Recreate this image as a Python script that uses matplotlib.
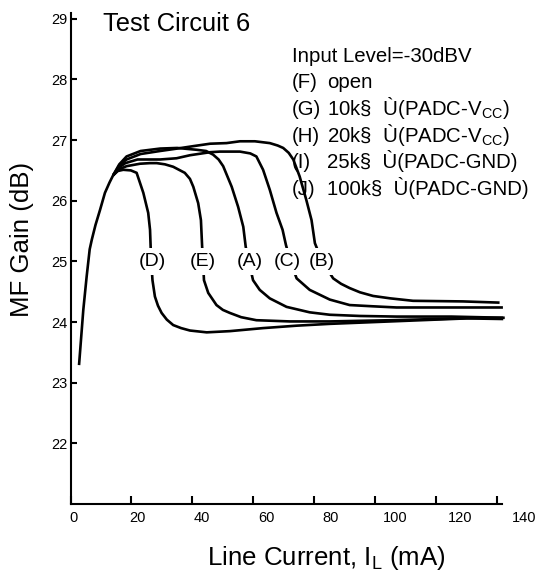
import matplotlib
matplotlib.use("Agg")
import matplotlib.pyplot as plt

plt.rcParams['font.family'] = ['Liberation Sans', 'DejaVu Sans']

# ---------------- data ----------------
rise_x = [2.8, 4.2, 5.3, 6.3, 7.0, 8.2, 9.7, 11.3, 12.8, 14.0]
rise_y = [23.29, 24.2, 24.75, 25.2, 25.36, 25.6, 25.85, 26.13, 26.3, 26.42]

d_x = [14, 15.5, 17.3, 19.8, 21.7, 23.9, 25.5, 26.1, 26.3, 26.5, 26.9, 27.7, 28.7, 29.9,
       31.6, 33.7, 36.3, 39.2, 44.7, 52.3, 63.2, 74.2, 85.1, 100, 115, 130, 142]
d_y = [26.42, 26.49, 26.51, 26.5, 26.46, 26.13, 25.8, 25.52, 25.24, 25.0, 24.69, 24.42,
       24.27, 24.15, 24.04, 23.95, 23.9, 23.86, 23.83, 23.85, 23.9, 23.94, 23.97, 24.0,
       24.03, 24.06, 24.05]

e_x = [14, 16, 18.4, 22.8, 26.1, 28.3, 31.0, 33.7, 37.5, 39.2, 40.3, 41.9, 42.8, 43.2,
       43.5, 43.8, 45.2, 47.9, 50.0, 52.3, 56.0, 61, 72, 85.1, 105, 120, 135, 142]
e_y = [26.42, 26.52, 26.57, 26.61, 26.62, 26.62, 26.6, 26.56, 26.46, 26.36, 26.23, 25.96,
       25.68, 25.24, 25.0, 24.69, 24.48, 24.28, 24.2, 24.15, 24.08, 24.03, 24.01, 24.01,
       24.03, 24.05, 24.07, 24.07]

a_x = [14, 16, 18.4, 23, 29.4, 35, 41.4, 44.5, 46.8, 48.6, 50.1, 52.9, 55.0, 56.7, 57.5,
       58.5, 59.9, 62.1, 65.4, 70.9, 78.5, 85.1, 95, 107, 125, 142.5]
a_y = [26.42, 26.6, 26.73, 26.82, 26.86, 26.87, 26.84, 26.82, 26.76, 26.68, 26.57, 26.23,
       25.9, 25.57, 25.24, 25.0, 24.69, 24.53, 24.39, 24.25, 24.16, 24.12, 24.1, 24.09,
       24.09, 24.07]

c_x = [14, 16, 18, 22, 26, 29.4, 34.8, 39.2, 45.8, 49, 55.6, 59.0, 61, 63.2, 65.4, 67.6,
       69.6, 70.7, 72.2, 74.2, 78.5, 85.1, 91.6, 99, 107, 128.8, 141.9]
c_y = [26.42, 26.55, 26.62, 26.68, 26.68, 26.68, 26.7, 26.75, 26.8, 26.81, 26.81, 26.78,
       26.73, 26.51, 26.18, 25.8, 25.52, 25.27, 25.0, 24.72, 24.53, 24.37, 24.28, 24.26,
       24.24, 24.24, 24.24]

b_x = [14, 16, 18.4, 23, 29.4, 35, 40.3, 45.8, 51.2, 55.6, 60.5, 65.4, 68.0, 69.8, 71.6,
       73.1, 75.2, 77.4, 79.1, 80.2, 82.6, 86.2, 88.8, 91.6, 95.0, 99.3, 105.0, 112.4,
       128.8, 140.8]
b_y = [26.42, 26.58, 26.68, 26.77, 26.82, 26.86, 26.9, 26.94, 26.95, 26.98, 26.98, 26.95,
       26.91, 26.87, 26.79, 26.68, 26.4, 26.01, 25.68, 25.3, 25.0, 24.72, 24.63, 24.56,
       24.49, 24.43, 24.39, 24.35, 24.34, 24.32]

curve_names = ['(D)', '(E)', '(A)', '(C)', '(B)']
label_x = [26.9, 43.5, 58.9, 71.2, 82.4]
label_y = 25.0

xticks = [0, 20, 40, 60, 80, 100, 120, 140]
yticks = [22, 23, 24, 25, 26, 27, 28, 29]

legend_keys = ['(F)', '(G)', '(H)', '(I)', '(J)']
legend_vals = ['open',
               '10k§  Ù(PADC-V$\\mathregular{_{CC}}$)',
               '20k§  Ù(PADC-V$\\mathregular{_{CC}}$)',
               '25k§  Ù(PADC-GND)',
               '100k§  Ù(PADC-GND)']

# ---------------- figure ----------------
W, H = 537, 572
fig = plt.figure(figsize=(W / 100, H / 100), dpi=100)
ax = fig.add_axes([70.5 / W, 1 - 504 / H, (502 - 70.5) / W, (504 - 12.7) / H])

lw = 1.9
ax.plot(rise_x, rise_y, color='black', lw=lw, solid_joinstyle='round', solid_capstyle='butt')
for xs, ys in [(d_x, d_y), (e_x, e_y), (a_x, a_y), (c_x, c_y), (b_x, b_y)]:
    ax.plot(xs, ys, color='black', lw=lw, clip_on=False,
            solid_joinstyle='round', solid_capstyle='butt')

for name, lx in zip(curve_names, label_x):
    ax.text(lx, label_y, name, fontsize=14, ha='center', va='center', zorder=5,
            bbox=dict(boxstyle='square,pad=0.25', fc='white', ec='none'))

ax.set_xlim(0, 141.6)
ax.set_ylim(21.0, 29.1)
for s in ['top', 'right']:
    ax.spines[s].set_visible(False)
for s in ['left', 'bottom']:
    ax.spines[s].set_linewidth(1.5)

ax.set_xticks(xticks)
ax.set_xticklabels([])
ax.set_yticks(yticks)
ax.set_yticklabels([str(v) for v in yticks], fontsize=10.5)
ax.tick_params(axis='both', direction='in', width=1.5)
ax.tick_params(axis='x', length=5.5)
ax.tick_params(axis='y', length=4, pad=2)

# x tick labels (placed as in the reference, slightly offset from ticks)
for v in xticks:
    fig.text((73 + 3.225 * v) / W, 1 - 511 / H, str(v), fontsize=10.5,
             ha='center', va='top')

fig.text(103 / W, 1 - 31 / H, 'Test Circuit 6', fontsize=18.4, ha='left', va='baseline')

fig.text(292 / W, 1 - 61.7 / H, 'Input Level=-30dBV', fontsize=14.7, ha='left', va='baseline')
for i, (k, v) in enumerate(zip(legend_keys, legend_vals)):
    yb = 61.7 + 26.7 * (i + 1)
    fig.text(292 / W, 1 - yb / H, k, fontsize=14.7, ha='left', va='baseline')
    fig.text(327 / W, 1 - yb / H, v, fontsize=14.7, ha='left', va='baseline')

fig.text(326 / W, 1 - 565 / H, 'Line Current, I$\\mathregular{_L}$ (mA)', fontsize=18.6,
         ha='center', va='baseline')
fig.text(22.5 / W, 1 - 239 / H, 'MF Gain (dB)', fontsize=18.6, rotation=90,
         ha='center', va='center')

fig.savefig('out.png', dpi=100)
